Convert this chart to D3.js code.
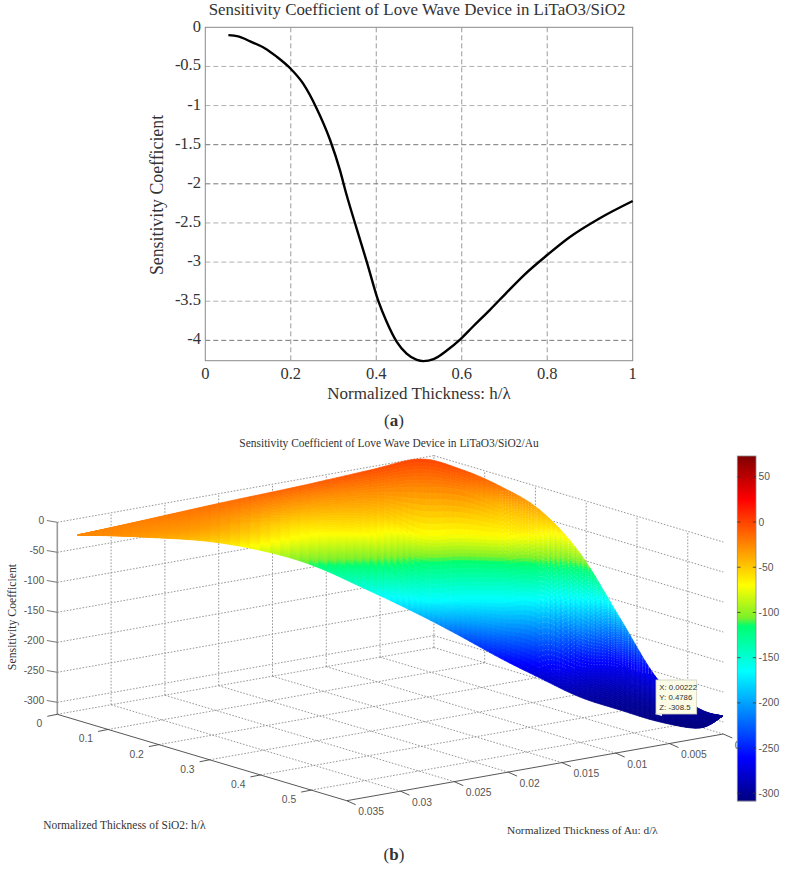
<!DOCTYPE html>
<html><head><meta charset="utf-8">
<style>
html,body{margin:0;padding:0;background:#fff}
svg{display:block}
text{font-family:"Liberation Serif",serif;fill:#333}
.sans{font-family:"Liberation Sans",sans-serif;font-size:10.3px;fill:#555}
</style>
<script src="https://cdnjs.cloudflare.com/ajax/libs/d3/7.8.5/d3.min.js"></script>
</head><body><svg id="c" width="786" height="870"></svg>
<script>
// ---------- panel (a) ----------
const curveH = [.054,.077,.105,.14,.167,.198,.229,.26,.292,.315,.33,.354,.378,.405,.424,.448,.471,.495,.51,.534,.565,.596,.627,.666,.705,.744,.80,.853,.923,1];
const curveS = [-.10,-.115,-.18,-.27,-.375,-.52,-.72,-1.03,-1.44,-1.825,-2.13,-2.57,-3.0,-3.5,-3.76,-4.02,-4.17,-4.25,-4.265,-4.24,-4.13,-3.99,-3.82,-3.61,-3.39,-3.175,-2.91,-2.68,-2.44,-2.22];
const ticksAX = [0,.2,.4,.6,.8,1];
const ticksAY = [0,-.5,-1,-1.5,-2,-2.5,-3,-3.5,-4];
const darkGridAY = [-1.5,-2,-4];

// ---------- panel (b) ----------
const ticksAu = [.035,.03,.025,.02,.015,.01,.005,0];
const ticksSiO2 = [0,.1,.2,.3,.4,.5];
const ticksZ = [0,-50,-100,-150,-200,-250,-300];
const ticksBar = [50,0,-50,-100,-150,-200,-250,-300];
const barRange = [-308.5,73];
const barStopsZ = [-308.5,-261,-165,-115,-106,-70,25,73];
const barStopsColor = ["#000080","#0000ff","#00ffff","#00ff70","#7af02a","#ffff00","#ff0000","#800000"];
const dataTip = ["X: 0.00222","Y: 0.4786","Z: -308.5"];
// Surface sections: each runs along d = auSection[j] + sectionSlope * h
const sectionSlope = .0472;
const auSection = [.03308,.02731,.01988,.01244,.00594,.00129,-.00243,-.00614,-.00986,-.01357,-.01729,-.02101,-.02472,-.02686];
const gridSiO2 = [
 [.003,.003,.003,.003,.003,.003,.003],
 [.001,.008,.014,.021,.031,.035,.042],
 [0,.016,.030,.044,.057,.066,.068],
 [.003,.015,.035,.052,.070,.077,.077],
 [.003,.033,.075,.108,.116,.125,.129],
 [.004,.058,.145,.149,.178,.179,.178],
 [.062,.099,.174,.175,.207,.210,.207],
 [.130,.149,.212,.208,.236,.249,.253],
 [.204,.220,.240,.246,.266,.282,.308],
 [.292,.288,.295,.307,.312,.341,.374],
 [.349,.340,.342,.345,.370,.395,.437],
 [.420,.430,.441,.453,.465,.484,.506],
 [.504,.511,.519,.526,.536,.548,.558],
 [.545,.545,.545,.545,.545,.545,.545]];
const gridZ = [
 [-26,-26,-26,-26,-26,-26,-26],
 [-22,-24,-25,-27,-28,-30,-32],
 [-16,-21,-27,-33,-38,-46,-55],
 [-10,-25,-42,-60,-73,-90,-105],
 [-4,-25,-45,-70,-100,-125,-155],
 [0,-25,-70,-115,-165,-178,-190],
 [-5,-25,-70,-118,-165,-197,-225],
 [-18,-42,-70,-118,-165,-210,-255],
 [-40,-55,-72,-118,-165,-225,-278],
 [-88,-118,-165,-210,-250,-280,-295],
 [-185,-212,-238,-260,-280,-295,-303],
 [-275,-281,-288,-295,-300,-304,-307],
 [-298,-300,-302,-304,-305,-307,-308],
 [-300,-300,-300,-300,-300,-300,-300]];

const svg = d3.select("#c");

// ===== panel (a) =====
const ax = d3.scaleLinear([0,1],[205.3,632.7]);
const ay = d3.scaleLinear([-4.26,0],[360.7,27.3]);
const a = svg.append("g");
ticksAX.slice(1,-1).forEach(t=>a.append("line").attr("x1",ax(t)).attr("x2",ax(t)).attr("y1",ay(0)).attr("y2",ay(-4.26))
  .attr("stroke","#9a9a9a").attr("stroke-width",1).attr("stroke-dasharray","5,3"));
ticksAY.slice(1).forEach(t=>a.append("line").attr("x1",ax(0)).attr("x2",ax(1)).attr("y1",ay(t)).attr("y2",ay(t))
  .attr("stroke",darkGridAY.includes(t)?"#777":"#b0b0b0").attr("stroke-width",1).attr("stroke-dasharray","5,3"));
a.append("rect").attr("x",ax(0)).attr("y",ay(0)).attr("width",ax(1)-ax(0)).attr("height",ay(-4.26)-ay(0))
  .attr("fill","none").attr("stroke","#8a8a8a");
a.append("path").datum(curveH.map((h,i)=>[h,curveS[i]]))
  .attr("d",d3.line().x(d=>ax(d[0])).y(d=>ay(d[1])).curve(d3.curveMonotoneX))
  .attr("fill","none").attr("stroke","#000").attr("stroke-width",2.4);
ticksAX.forEach(t=>a.append("text").attr("x",ax(t)).attr("y",378.5).attr("text-anchor","middle").attr("font-size",16.5).text(t));
ticksAY.forEach(t=>a.append("text").attr("x",201).attr("y",ay(t)+(t===0?5:4)).attr("text-anchor","end").attr("font-size",16.5).text(t));
a.append("text").attr("x",417).attr("y",15).attr("text-anchor","middle").attr("font-size",16.9).text("Sensitivity Coefficient of Love Wave Device in LiTaO3/SiO2");
a.append("text").attr("x",419).attr("y",399).attr("text-anchor","middle").attr("font-size",17).text("Normalized Thickness: h/λ");
a.append("text").attr("transform","translate(163,195) rotate(-90)").attr("text-anchor","middle").attr("font-size",17.8).text("Sensitivity Coefficient");
const capA = a.append("text").attr("x",394).attr("y",425.5).attr("text-anchor","middle").attr("font-size",17);
capA.append("tspan").text("("); capA.append("tspan").attr("font-weight","bold").text("a"); capA.append("tspan").text(")");

// ===== panel (b) =====
const dToX = d3.scaleLinear([.035,0],[0,376.6]);
const dToY = d3.scaleLinear([.035,0],[0,-66.7]);
const hToX = d3.scaleLinear([0,.57],[0,289.4]);
const hToY = d3.scaleLinear([0,.57],[0,86.4]);
const zToY = d3.scaleLinear([-320,0],[0,-192]);
const px = (d,h)=>57.3+dToX(d)+hToX(h);
const py = (d,h,z)=>714.3+dToY(d)+hToY(h)+zToY(z);
const P = (d,h,z)=>[px(d,h),py(d,h,z)];
const HM = .57, ZB = -320;
const zColor = d3.scaleLinear(barStopsZ,barStopsColor).clamp(true);

const b = svg.append("g");
const seg=(g,p,q,col,w,dash)=>{const l=g.append("line").attr("x1",p[0]).attr("y1",p[1]).attr("x2",q[0]).attr("y2",q[1]).attr("stroke",col).attr("stroke-width",w); if(dash) l.attr("stroke-dasharray",dash); return l;};
const grid=b.append("g");
const gs=["#8c8c8c",.9,"1.6,1.6"];
ticksAu.slice(1).forEach(d=>{
  seg(grid,P(d,0,ZB),P(d,HM,ZB),...gs);
  seg(grid,P(d,0,ZB),P(d,0,0),...gs);
});
ticksSiO2.forEach(h=>{
  seg(grid,P(.035,h,ZB),P(0,h,ZB),...gs);
  if(h>0) seg(grid,P(0,h,ZB),P(0,h,0),...gs);
});
ticksZ.forEach(z=>{
  seg(grid,P(.035,0,z),P(0,0,z),...gs);
  seg(grid,P(0,0,z),P(0,HM,z),...gs);
});

// surface: patches between the read sections, smoothed along the section sequence
const surf=b.append("g");
const nJ=auSection.length, nI=gridZ[0].length;
const val=(k,j,i)=>{
  const J=Math.max(0,Math.min(nJ-1,j));
  const h=gridSiO2[J][i];
  if(k==="h")return h;
  if(k==="z")return gridZ[J][i];
  return auSection[J]+sectionSlope*h;
};
const cr=(p0,p1,p2,p3,t)=>.5*((2*p1)+(-p0+p2)*t+(2*p0-5*p1+4*p2-p3)*t*t+(-p0+3*p1-3*p2+p3)*t*t*t);
const lerp=(p,q,t)=>p+(q-p)*t;
const sample=(j,i,u,v,k)=>{
  const along=r=>cr(val(k,j-1,r),val(k,j,r),val(k,j+1,r),val(k,j+2,r),u);
  return lerp(along(i),along(i+1),v);
};
const pos=(j,i,u,v)=>{
  const z=sample(j,i,u,v,"z");
  return {p:P(sample(j,i,u,v,"d"),sample(j,i,u,v,"h"),z),z};
};
const NU=8,NV=8;
for(let j=0;j<nJ-1;j++)for(let i=0;i<nI-1;i++){
  for(let u=0;u<NU;u++)for(let v=0;v<NV;v++){
    const A=pos(j,i,u/NU,v/NV),B=pos(j,i,(u+1)/NU,v/NV),C=pos(j,i,(u+1)/NU,(v+1)/NV),D=pos(j,i,u/NU,(v+1)/NV);
    const col=zColor(pos(j,i,(u+.5)/NU,(v+.5)/NV).z);
    surf.append("path").attr("d",`M${A.p}L${B.p}L${C.p}L${D.p}Z`).attr("fill",col).attr("stroke",col).attr("stroke-width",.7);
  }
}
// moire of the dense mesh: light pin-holes at mesh nodes on the steep right flank
const holes=b.append("g").attr("fill","#fff");
for(let j=7;j<11;j++)for(let i=0;i<nI-1;i++){
  const N=14;
  for(let u=0;u<N;u++)for(let v=0;v<N;v++){
    if((u+v)%2) continue;
    const n=pos(j,i,u/N,v/N);
    if(n.z<-265||n.z>-22||(n.z>-62&&j>7)||(n.z<-100&&j===7)) continue;
    holes.append("circle").attr("cx",n.p[0]).attr("cy",n.p[1]).attr("r",.5).attr("fill-opacity",.32);
  }
}

// axes
const axG=b.append("g");
seg(axG,P(.035,0,0),P(.035,0,ZB),"#9a9a9a",1.6);
seg(axG,P(.035,0,ZB),P(.035,HM,ZB),"#444",.9);
seg(axG,P(.035,HM,ZB),P(0,HM,ZB),"#444",.9);
ticksZ.forEach(z=>{
  const p=P(.035,0,z); seg(axG,p,[p[0]-10.5,p[1]-1.8],"#666",.9);
  axG.append("text").attr("class","sans").attr("x",44.3).attr("y",p[1]+2).attr("text-anchor","end").text(z);
});
ticksSiO2.forEach(h=>{
  const p=P(.035,h,ZB); seg(axG,p,[p[0]-10,p[1]+2],"#444",.9);
  axG.append("text").attr("class","sans").attr("x",p[0]-15).attr("y",p[1]+13).attr("text-anchor","end").text(h);
});
ticksAu.forEach(d=>{
  const p=P(d,HM,ZB); seg(axG,p,[p[0]+9,p[1]+4],"#444",.9);
  axG.append("text").attr("class","sans").attr("x",p[0]+11.5).attr("y",p[1]+14.5).text(d);
});

// colorbar
const barY=d3.scaleLinear(barRange,[801,456]);
const bar=b.append("g");
d3.range(0,345).forEach(k=>{
  const y=456+k;
  bar.append("rect").attr("x",737.3).attr("y",y).attr("width",18.7).attr("height",1.2).attr("fill",zColor(barY.invert(y+.5)));
});
bar.append("rect").attr("x",737.3).attr("y",456).attr("width",18.7).attr("height",345).attr("fill","none").attr("stroke","#8a8a8a").attr("stroke-width",.8);
ticksBar.forEach(t=>{
  const y=barY(t);
  seg(bar,[737.3,y],[740.5,y],"#333",.8); seg(bar,[752.8,y],[756,y],"#333",.8);
  bar.append("text").attr("class","sans").attr("x",758.5).attr("y",y+3.5).text(t);
});

// data tip
const tip=b.append("g");
tip.append("path").attr("d","M655,714L662,710L662,716Z").attr("fill","#fff");
tip.append("rect").attr("x",656).attr("y",680).attr("width",40.7).attr("height",34).attr("fill","#fbfbe6").attr("stroke","#cfcfc4").attr("stroke-width",.8);
dataTip.forEach((s,i)=>tip.append("text").attr("x",659.3).attr("y",[690,699.5,709.5][i]).attr("font-size",7.8).style("font-family","'Liberation Sans',sans-serif").attr("fill","#444").text(s));

// titles
b.append("text").attr("x",389).attr("y",446.5).attr("text-anchor","middle").attr("font-size",11.45).text("Sensitivity Coefficient of Love Wave Device in LiTaO3/SiO2/Au");
b.append("text").attr("transform","translate(15.7,617) rotate(-90)").attr("text-anchor","middle").attr("font-size",11.8).text("Sensitivity Coefficient");
b.append("text").attr("x",43.3).attr("y",829).attr("font-size",11.45).text("Normalized Thickness of SiO2: h/λ");
b.append("text").attr("x",507).attr("y",834).attr("font-size",11.35).text("Normalized Thickness of Au: d/λ");
const capB=b.append("text").attr("x",394).attr("y",860).attr("text-anchor","middle").attr("font-size",17);
capB.append("tspan").text("("); capB.append("tspan").attr("font-weight","bold").text("b"); capB.append("tspan").text(")");
</script></body></html>
